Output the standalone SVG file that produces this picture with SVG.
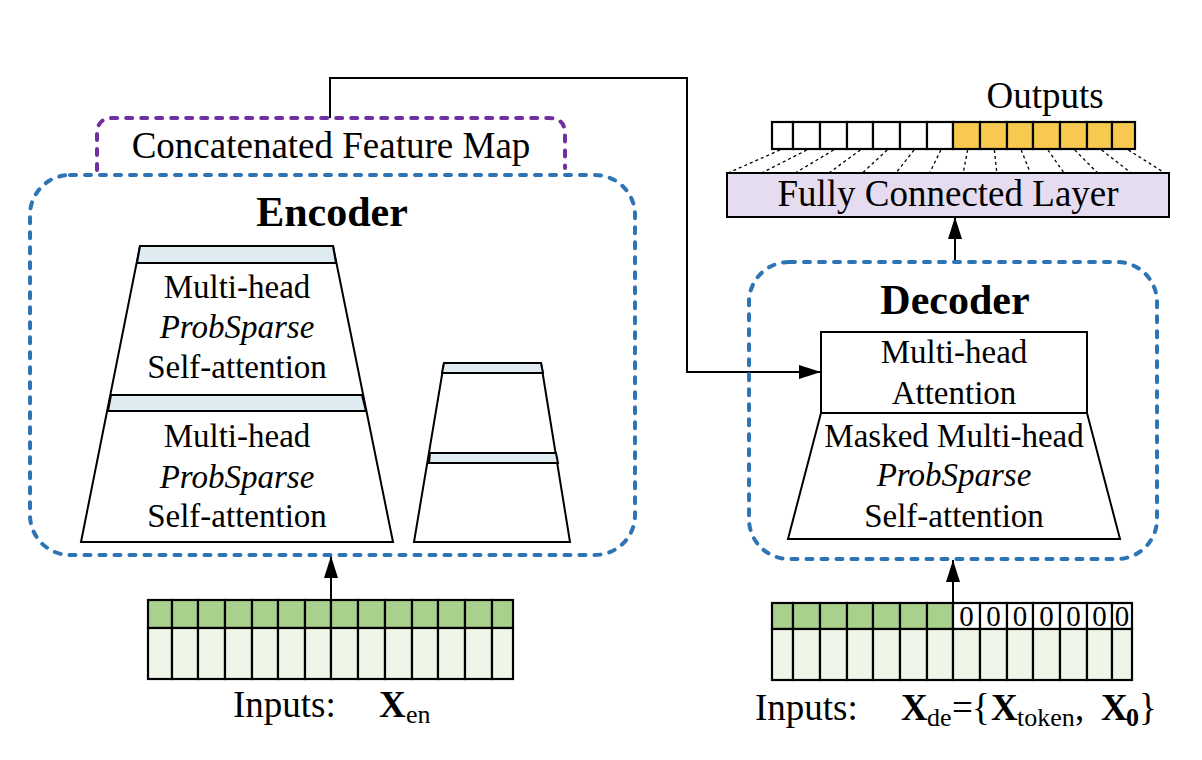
<svg xmlns="http://www.w3.org/2000/svg" width="1202" height="760" viewBox="0 0 1202 760">
<defs>
<style>
text{font-family:"Liberation Serif","Times New Roman",serif;fill:#000}
.lbl{font-size:37px}
.in{font-size:33px;text-anchor:middle}
.it{font-style:italic}
.ttl{font-size:42px;font-weight:bold;text-anchor:middle}
.blue{fill:none;stroke:#2E74B5;stroke-width:4;stroke-dasharray:6 9;stroke-linecap:round}
.purple{fill:none;stroke:#7030A0;stroke-width:4;stroke-dasharray:6 9;stroke-linecap:round}
.trap{fill:#fff;stroke:#000;stroke-width:2}
.band{fill:#DEEBF1;stroke:#000;stroke-width:2}
.cell{stroke:#000;stroke-width:2.2}
.g1{fill:#A9D18E}
.g2{fill:#EFF6E7}
.wh{fill:#fff}
.yl{fill:#F7C94E}
.conn{fill:none;stroke:#000;stroke-width:2}
.fan{stroke:#000;stroke-width:1.3;stroke-dasharray:3 3}
.sub{font-size:26px}
.zero{font-size:29px;text-anchor:middle}
</style>
<marker id="arr" viewBox="0 0 22 14" refX="22" refY="7" markerUnits="userSpaceOnUse" markerWidth="22" markerHeight="14" orient="auto">
<path d="M0,0 L22,7 L0,14 z" fill="#000"/>
</marker>
</defs>

<g id="connectors">
<path class="conn" d="M330,118 V78 H687 V372 H821" marker-end="url(#arr)"/>
<line class="conn" x1="331" y1="600" x2="331" y2="556" marker-end="url(#arr)"/>
<line class="conn" x1="953" y1="603" x2="953" y2="560" marker-end="url(#arr)"/>
<line class="conn" x1="955" y1="262" x2="955" y2="217" marker-end="url(#arr)"/>
</g>

<g id="concat-map">
<path class="purple" d="M97,170 V134 Q97,118 113,118 H549 Q565,118 565,134 V168"/>
<text class="lbl" x="331" y="158" text-anchor="middle">Concatenated Feature Map</text>
</g>

<g id="encoder">
<rect class="blue" x="30" y="175" width="605" height="380" rx="40" ry="40"/>
<text class="ttl" x="332" y="226">Encoder</text>
<g id="enc-stack1">
<polygon class="trap" points="140,246 333,246 393,542 81,542"/>
<polygon class="band" points="140,246 333,246 336,263 137,263"/>
<polygon class="band" points="111,395 362,395 366,411 108,411"/>
<text class="in" x="237" y="298">Multi-head</text>
<text class="in it" x="237" y="338">ProbSparse</text>
<text class="in" x="237" y="378">Self-attention</text>
<text class="in" x="237" y="447">Multi-head</text>
<text class="in it" x="237" y="488">ProbSparse</text>
<text class="in" x="237" y="527">Self-attention</text>
</g>
<g id="enc-stack2">
<polygon class="trap" points="444,363 541,363 570,542 414,542"/>
<polygon class="band" points="444,363 541,363 543,373 442,373"/>
<polygon class="band" points="430,453 556,453 558,463 429,463"/>
</g>
</g>

<g id="decoder">
<rect class="blue" x="749" y="262" width="408" height="297" rx="40" ry="40"/>
<text class="ttl" x="955" y="314">Decoder</text>
<g id="dec-attention">
<rect class="trap" x="821" y="332" width="266" height="81"/>
<text class="in" x="954" y="363">Multi-head</text>
<text class="in" x="954" y="404">Attention</text>
</g>
<g id="dec-masked">
<polygon class="trap" points="821,413 1087,413 1120,539 788,539"/>
<text class="in" x="954" y="447">Masked Multi-head</text>
<text class="in it" x="954" y="486">ProbSparse</text>
<text class="in" x="954" y="527">Self-attention</text>
</g>
</g>

<g id="fc-layer">
<rect x="727" y="173" width="442" height="44" fill="#E5DDEF" stroke="#000" stroke-width="2"/>
<text class="lbl" x="948" y="206" text-anchor="middle">Fully Connected Layer</text>
</g>

<g id="fan-lines">
<line class="fan" x1="780" y1="150" x2="728" y2="173"/>
<line class="fan" x1="806.8" y1="150" x2="761.6" y2="173"/>
<line class="fan" x1="833.6" y1="150" x2="795.2" y2="173"/>
<line class="fan" x1="860.4" y1="150" x2="828.8" y2="173"/>
<line class="fan" x1="887.2" y1="150" x2="862.4" y2="173"/>
<line class="fan" x1="914" y1="150" x2="896" y2="173"/>
<line class="fan" x1="940.8" y1="150" x2="929.6" y2="173"/>
<line class="fan" x1="967.6" y1="150" x2="963.2" y2="173"/>
<line class="fan" x1="994.4" y1="150" x2="996.8" y2="173"/>
<line class="fan" x1="1021.2" y1="150" x2="1030.4" y2="173"/>
<line class="fan" x1="1048" y1="150" x2="1064" y2="173"/>
<line class="fan" x1="1074.8" y1="150" x2="1097.6" y2="173"/>
<line class="fan" x1="1101.6" y1="150" x2="1131.2" y2="173"/>
<line class="fan" x1="1128.4" y1="150" x2="1164.8" y2="173"/>
</g>

<g id="outputs">
<text class="lbl" x="1045" y="108" text-anchor="middle">Outputs</text>
<rect class="cell wh" x="772" y="122" width="21" height="27"/>
<rect class="cell wh" x="793" y="122" width="27" height="27"/>
<rect class="cell wh" x="820" y="122" width="27" height="27"/>
<rect class="cell wh" x="847" y="122" width="26" height="27"/>
<rect class="cell wh" x="873" y="122" width="27" height="27"/>
<rect class="cell wh" x="900" y="122" width="27" height="27"/>
<rect class="cell wh" x="927" y="122" width="26" height="27"/>
<rect class="cell yl" x="953" y="122" width="27" height="27"/>
<rect class="cell yl" x="980" y="122" width="27" height="27"/>
<rect class="cell yl" x="1007" y="122" width="26" height="27"/>
<rect class="cell yl" x="1033" y="122" width="27" height="27"/>
<rect class="cell yl" x="1060" y="122" width="27" height="27"/>
<rect class="cell yl" x="1087" y="122" width="25" height="27"/>
<rect class="cell yl" x="1112" y="122" width="23" height="27"/>
</g>

<g id="encoder-input">
<g class="cell g1">
<rect x="148" y="600" width="24" height="28"/><rect x="172" y="600" width="26" height="28"/><rect x="198" y="600" width="27" height="28"/><rect x="225" y="600" width="27" height="28"/><rect x="252" y="600" width="26" height="28"/><rect x="278" y="600" width="27" height="28"/><rect x="305" y="600" width="26" height="28"/><rect x="331" y="600" width="27" height="28"/><rect x="358" y="600" width="27" height="28"/><rect x="385" y="600" width="27" height="28"/><rect x="412" y="600" width="26" height="28"/><rect x="438" y="600" width="27" height="28"/><rect x="465" y="600" width="27" height="28"/><rect x="492" y="600" width="21" height="28"/>
</g>
<g class="cell g2">
<rect x="148" y="628" width="24" height="51"/><rect x="172" y="628" width="26" height="51"/><rect x="198" y="628" width="27" height="51"/><rect x="225" y="628" width="27" height="51"/><rect x="252" y="628" width="26" height="51"/><rect x="278" y="628" width="27" height="51"/><rect x="305" y="628" width="26" height="51"/><rect x="331" y="628" width="27" height="51"/><rect x="358" y="628" width="27" height="51"/><rect x="385" y="628" width="27" height="51"/><rect x="412" y="628" width="26" height="51"/><rect x="438" y="628" width="27" height="51"/><rect x="465" y="628" width="27" height="51"/><rect x="492" y="628" width="21" height="51"/>
</g>
<text class="lbl" x="233" y="717">Inputs:</text>
<text class="lbl" x="379" y="717" font-weight="bold">X</text>
<text class="sub" x="406" y="723">en</text>
</g>

<g id="decoder-input">
<g class="cell g1">
<rect x="772" y="603" width="21" height="26"/><rect x="793" y="603" width="27" height="26"/><rect x="820" y="603" width="27" height="26"/><rect x="847" y="603" width="26" height="26"/><rect x="873" y="603" width="27" height="26"/><rect x="900" y="603" width="27" height="26"/><rect x="927" y="603" width="26" height="26"/>
</g>
<g class="cell wh">
<rect x="953" y="603" width="27" height="26"/><rect x="980" y="603" width="27" height="26"/><rect x="1007" y="603" width="26" height="26"/><rect x="1033" y="603" width="27" height="26"/><rect x="1060" y="603" width="27" height="26"/><rect x="1087" y="603" width="25" height="26"/><rect x="1112" y="603" width="20" height="26"/>
</g>
<g class="cell g2">
<rect x="772" y="629" width="21" height="51"/><rect x="793" y="629" width="27" height="51"/><rect x="820" y="629" width="27" height="51"/><rect x="847" y="629" width="26" height="51"/><rect x="873" y="629" width="27" height="51"/><rect x="900" y="629" width="27" height="51"/><rect x="927" y="629" width="26" height="51"/><rect x="953" y="629" width="27" height="51"/><rect x="980" y="629" width="27" height="51"/><rect x="1007" y="629" width="26" height="51"/><rect x="1033" y="629" width="27" height="51"/><rect x="1060" y="629" width="27" height="51"/><rect x="1087" y="629" width="25" height="51"/><rect x="1112" y="629" width="20" height="51"/>
</g>
<text class="zero" x="966.5" y="626">0</text>
<text class="zero" x="993.5" y="626">0</text>
<text class="zero" x="1020" y="626">0</text>
<text class="zero" x="1046.5" y="626">0</text>
<text class="zero" x="1073.5" y="626">0</text>
<text class="zero" x="1099.5" y="626">0</text>
<text class="zero" x="1122" y="626">0</text>
<text class="lbl" x="755" y="720">Inputs:</text>
<text class="lbl" x="901" y="720" font-weight="bold">X</text>
<text class="sub" x="927" y="726">de</text>
<text class="lbl" x="952" y="720">=</text>
<text class="lbl" x="972" y="720">{</text>
<text class="lbl" x="991" y="720" font-weight="bold">X</text>
<text class="sub" x="1017" y="726">token</text>
<text class="lbl" x="1075" y="720">,</text>
<text class="lbl" x="1101" y="720" font-weight="bold">X</text>
<text class="sub" x="1126" y="726" font-weight="bold">0</text>
<text class="lbl" x="1139" y="720">}</text>
</g>
</svg>
